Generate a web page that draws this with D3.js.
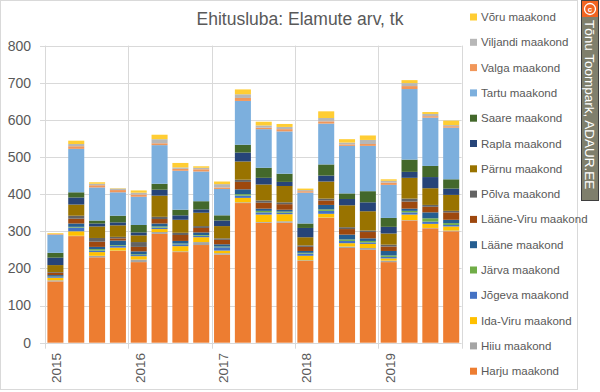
<!DOCTYPE html>
<html><head><meta charset="utf-8">
<script src="https://cdn.jsdelivr.net/npm/d3@7"></script>
<style>body{margin:0;background:#fff}svg{display:block;font-family:"Liberation Sans",Arial,sans-serif}</style>
</head><body><svg id="c" width="600" height="392"></svg>
<script>
const quarters = ["2015Q1","2015Q2","2015Q3","2015Q4","2016Q1","2016Q2","2016Q3","2016Q4","2017Q1","2017Q2","2017Q3","2017Q4","2018Q1","2018Q2","2018Q3","2018Q4","2019Q1","2019Q2","2019Q3","2019Q4"];
const yearLabels = ["2015","2016","2017","2018","2019"];
const yTicks = [0,100,200,300,400,500,600,700,800];
const counties = ["Harju maakond","Hiiu maakond","Ida-Viru maakond","Jõgeva maakond","Järva maakond","Lääne maakond","Lääne-Viru maakond","Põlva maakond","Pärnu maakond","Rapla maakond","Saare maakond","Tartu maakond","Valga maakond","Viljandi maakond","Võru maakond"];
const harju    = [165,287,230,247,217,293,244,263,237,376,323,323,220,336,255,250,217,329,308,300];
const hiiu     = [3,1,4,1,7,5,2,8,4,2,2,4,2,1,4,5,4,1,1,2];
const idaViru  = [7,12,10,8,9,8,14,13,7,12,20,19,12,10,9,11,6,15,11,11];
const jogeva   = [2,10,4,5,3,4,5,4,9,6,6,4,6,8,6,4,4,6,6,4];
const jarva    = [1,2,4,2,2,3,2,2,2,4,4,3,2,4,4,4,4,4,9,5];
const laane    = [4,9,6,12,8,8,7,7,6,13,6,5,5,12,13,7,12,6,16,9];
const laaneViru= [6,13,14,6,12,12,16,12,12,20,16,15,11,12,15,17,12,19,15,20];
const polva    = [2,8,10,4,13,6,6,5,4,6,6,5,4,5,5,4,5,8,5,4];
const parnu    = [19,30,31,31,18,57,35,36,33,49,43,44,22,46,59,52,30,56,45,43];
const rapla    = [20,19,8,8,8,16,12,9,15,24,18,11,25,16,17,24,18,16,30,17];
const saare    = [13,14,8,18,20,16,15,22,14,21,27,22,12,30,15,30,24,33,30,25];
const tartu    = [48,117,89,63,76,104,105,80,71,118,104,114,83,110,128,122,89,190,130,139];
const valga    = [2,7,6,6,6,5,5,6,4,8,4,6,4,6,4,5,6,8,4,4];
const viljandi = [1,6,4,4,5,11,4,4,9,10,6,6,3,9,5,11,5,8,6,3];
const voru     = [2,9,4,1,6,12,12,4,7,13,10,8,4,18,9,12,4,8,5,12];
const seriesValues = [harju,hiiu,idaViru,jogeva,jarva,laane,laaneViru,polva,parnu,rapla,saare,tartu,valga,viljandi,voru];
const colors = ["#ED7D31","#A5A5A5","#FFC000","#4472C4","#70AD47","#255E91","#9E480E","#636363","#997300","#264478","#43682B","#7CAFDD","#F1975A","#B7B7B7","#FFCD33"];

const table = quarters.map((q,i)=>{const o={q}; counties.forEach((c,k)=>o[c]=seriesValues[k][i]); return o;});
const svg = d3.select("#c");
const L=45, R=461.6, T=45.6, B=342.7;
const x = d3.scaleBand().domain(quarters).range([L,R]).paddingInner(0.23).paddingOuter(0.115);
const y = d3.scaleLinear().domain([0,800]).range([B,T]);
const grid="#D9D9D9", txt="#595959";

svg.append("rect").attr("x",0.5).attr("y",0.5).attr("width",577).attr("height",389).attr("fill","none").attr("stroke","#D9D9D9");

svg.append("g").selectAll("line").data(yTicks).join("line")
 .attr("x1",40).attr("x2",R).attr("y1",d=>Math.round(y(d))+0.5).attr("y2",d=>Math.round(y(d))+0.5)
 .attr("stroke",grid).attr("stroke-width",1);
svg.append("g").selectAll("text").data(yTicks).join("text")
 .attr("x",31).attr("y",d=>y(d)).attr("dy","0.35em").attr("text-anchor","end")
 .attr("font-size",14).attr("fill",txt).text(d=>d);

const step = x.step();
const yearIdx = [0,4,8,12,16,20];
svg.append("g").selectAll("line").data(yearIdx).join("line")
 .attr("x1",i=>Math.round(L+i*step)+0.5).attr("x2",i=>Math.round(L+i*step)+0.5)
 .attr("y1",T).attr("y2",B+6).attr("stroke",grid);
svg.append("g").selectAll("text").data(yearLabels).join("text")
 .attr("transform",(d,i)=>`translate(${L+i*4*step+11.5},353) rotate(-90)`)
 .attr("text-anchor","end").attr("dy","0.35em").attr("font-size",13.5).attr("fill",txt).text(d=>d);

const stack = d3.stack().keys(counties)(table);
svg.append("g").selectAll("g").data(stack).join("g").attr("fill",(d,i)=>colors[i])
 .selectAll("rect").data(d=>d).join("rect")
 .attr("x",d=>x(d.data.q)).attr("width",x.bandwidth())
 .attr("y",d=>y(d[1])).attr("height",d=>Math.max(0,y(d[0])-y(d[1])));

svg.append("text").attr("x",300).attr("y",19).attr("text-anchor","middle").attr("dy","0.35em")
 .attr("font-size",17.5).attr("fill",txt).text("Ehitusluba: Elamute arv, tk");

const legendOrder = counties.map((c,i)=>({c,i})).reverse();
const lg = svg.append("g").selectAll("g").data(legendOrder).join("g")
 .attr("transform",(d,k)=>`translate(470,${17+k*25.3})`);
lg.append("rect").attr("x",0).attr("y",-3.5).attr("width",7).attr("height",7).attr("fill",d=>colors[d.i]);
lg.append("text").attr("x",11).attr("dy","0.35em").attr("font-size",11.5).attr("fill",txt).text(d=>d.c);

const bg = svg.append("g");
bg.append("rect").attr("x",581.5).attr("y",0.5).attr("width",17).attr("height",200).attr("fill","#7F7F6C").attr("stroke","#3F3F3F");
bg.append("rect").attr("x",582).attr("y",1).attr("width",16).attr("height",16).attr("fill","#F26522");
bg.append("circle").attr("cx",590).attr("cy",9).attr("r",5.5).attr("fill","none").attr("stroke","#fff").attr("stroke-width",1.3);
bg.append("text").attr("x",590).attr("y",9).attr("dy","0.35em").attr("text-anchor","middle").attr("font-size",8).attr("font-weight","bold").attr("fill","#fff").text("c");
bg.append("text").attr("transform","translate(590,20) rotate(90)").attr("dy","0.35em").attr("font-size",13.5).attr("fill","#fff").text("Tõnu Toompark, ADAUR.EE");
</script></body></html>
